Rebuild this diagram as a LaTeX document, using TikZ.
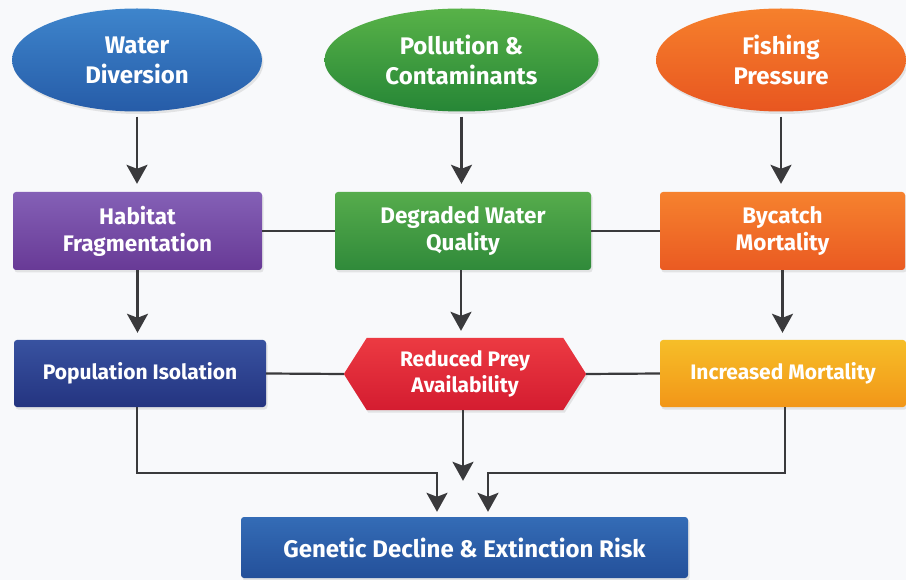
\documentclass[tikz,border=0pt]{standalone}
\usepackage{fontspec}
\setmainfont{Fira Sans}
\usetikzlibrary{shapes.geometric,arrows.meta,shadows}
\definecolor{bgc}{HTML}{F8F9FB}
\definecolor{arrc}{HTML}{3A3A3C}
\begin{document}
\begin{tikzpicture}[x=1pt,y=-1pt,
  lbl/.style={text=white,font=\fontsize{21}{26}\selectfont\bfseries,align=center,inner sep=0pt},
  big/.style={font=\fontsize{24}{30}\selectfont\bfseries},
  mid/.style={font=\fontsize{22.5}{27}\selectfont\bfseries},
  sh/.style={drop shadow={opacity=0.18,shadow xshift=1.5pt,shadow yshift=-2.5pt}},
  oval/.style={lbl,big,ellipse,sh},
  box/.style={lbl,rectangle,rounded corners=3pt,sh},
  arr/.style={draw=arrc,line width=2.4pt,-{Stealth[length=19pt,width=21pt,inset=4pt]}},
  ln/.style={draw=arrc,line width=2.2pt}]
\fill[bgc] (0,0) rectangle (906,580);
\useasboundingbox (0,0) rectangle (906,580);
% sources
\node[oval,minimum width=250,minimum height=103,bottom color={rgb,255:red,38;green,92;blue,168},top color={rgb,255:red,62;green,133;blue,204}] (wd) at (137,60) {Water\\Diversion};
\node[oval,minimum width=274,minimum height=103,top color={rgb,255:red,88;green,178;blue,72},bottom color={rgb,255:red,38;green,134;blue,54}] (pc) at (461.5,60) {Pollution \&\\Contaminants};
\node[oval,minimum width=250,minimum height=103,top color={rgb,255:red,246;green,128;blue,44},bottom color={rgb,255:red,232;green,86;blue,32}] (fp) at (781,60) {Fishing\\Pressure};
% row 2
\node[box,mid,minimum width=249,minimum height=78,top color={rgb,255:red,132;green,96;blue,182},bottom color={rgb,255:red,104;green,58;blue,150}] (hf) at (137.5,231) {Habitat\\Fragmentation};
\node[box,mid,minimum width=256,minimum height=78,top color={rgb,255:red,86;green,172;blue,76},bottom color={rgb,255:red,48;green,138;blue,58}] (dw) at (463,231) {Degraded Water\\Quality};
\node[box,mid,minimum width=245,minimum height=78,top color={rgb,255:red,246;green,130;blue,46},bottom color={rgb,255:red,234;green,90;blue,34}] (bm) at (782.5,231) {Bycatch\\Mortality};
% row 3
\node[box,minimum width=252,minimum height=67,top color={rgb,255:red,56;green,82;blue,160},bottom color={rgb,255:red,36;green,52;blue,128}] (pi) at (140,373.5) {Population Isolation};
\node[lbl,minimum width=242,minimum height=72] (rp) at (465,374) {};
\path[sh,top color={rgb,255:red,236;green,58;blue,66},bottom color={rgb,255:red,212;green,28;blue,48}]
  (rp.west) -- ([xshift=23pt]rp.north west) -- ([xshift=-23pt]rp.north east) -- (rp.east)
  -- ([xshift=-23pt]rp.south east) -- ([xshift=23pt]rp.south west) -- cycle;
\node[lbl] at (rp.center) {Reduced Prey\\Availability};
\node[box,minimum width=246,minimum height=67,top color={rgb,255:red,246;green,190;blue,40},bottom color={rgb,255:red,242;green,150;blue,24}] (im) at (783,373.5) {Increased Mortality};
% target
\node[box,big,minimum width=447,minimum height=61,top color={rgb,255:red,52;green,108;blue,182},bottom color={rgb,255:red,36;green,80;blue,154}] (gd) at (464.5,547.5) {Genetic Decline \& Extinction Risk};
% connectors
\draw[arr,shorten <=5pt,shorten >=8pt] (wd.south) -- (wd.south |- hf.north);
\draw[arr,shorten <=5pt,shorten >=8pt] (pc.south) -- (pc.south |- dw.north);
\draw[arr,shorten <=5pt,shorten >=8pt] (fp.south) -- (fp.south |- bm.north);
\draw[ln] (hf.east) -- (dw.west);
\draw[ln] (dw.east) -- (bm.west);
\draw[arr,shorten >=7pt] (hf.south) -- (hf.south |- pi.north);
\draw[arr,shorten >=7pt] ([xshift=-2pt]dw.south) -- ([xshift=-2pt]dw.south |- rp.north);
\draw[arr,shorten >=7pt] (bm.south) -- (bm.south |- im.north);
\draw[ln] (pi.east) -- (rp.west);
\draw[ln] (rp.east) -- (im.west);
\coordinate (jl) at (437,473);
\coordinate (jr) at (488,473);
\draw[arr,shorten >=5pt] ([xshift=-3pt]pi.south) |- (jl) -- (jl |- gd.north);
\draw[arr,shorten >=36pt] ([xshift=-2pt]rp.south) -- ([xshift=-2pt]rp.south |- gd.north);
\draw[arr,shorten >=5pt] ([xshift=2pt]im.south) |- (jr) -- (jr |- gd.north);
\end{tikzpicture}
\end{document}
